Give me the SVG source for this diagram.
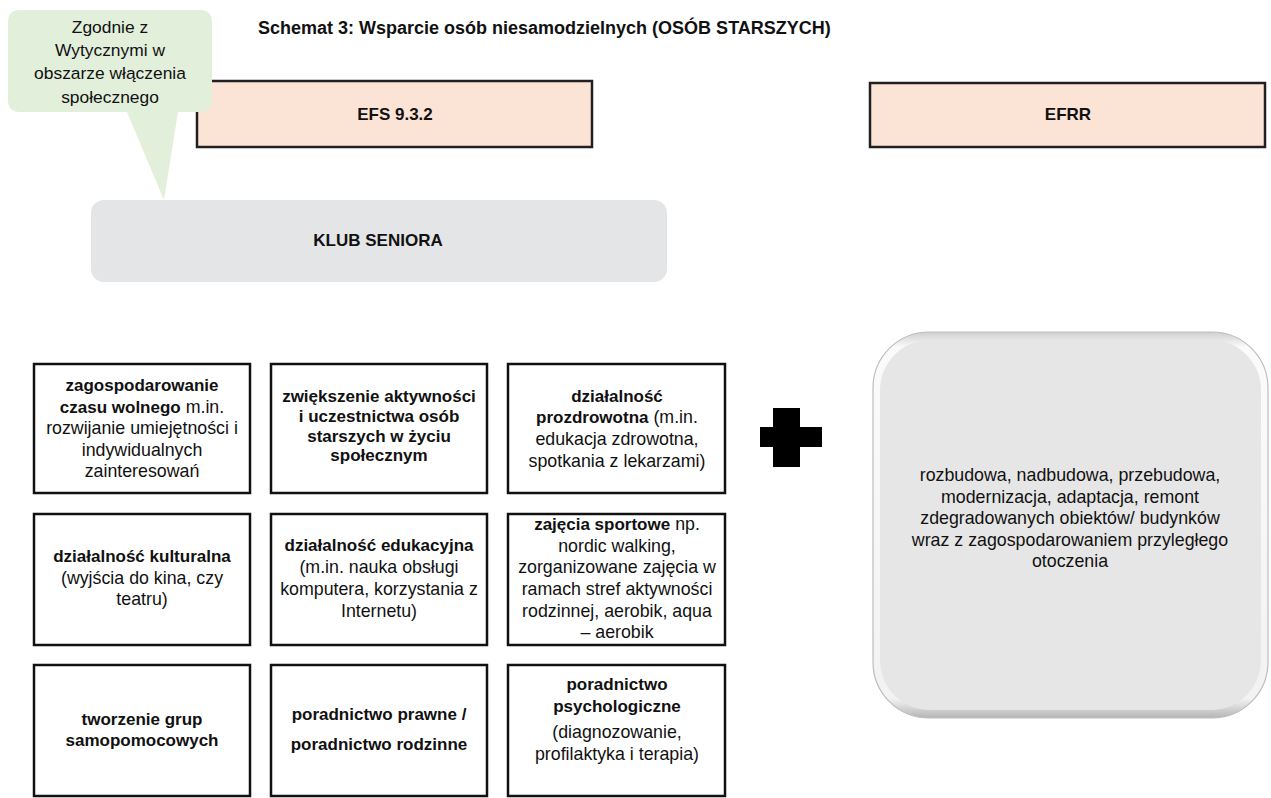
<svg xmlns="http://www.w3.org/2000/svg" width="1271" height="798" viewBox="0 0 1271 798">
<style>
text{font-family:"Liberation Sans",Arial,sans-serif;fill:#111;}
.b{font-weight:bold;font-size:17px;}
.r{font-size:17.8px;}
.co{font-size:17.4px;}
.t{font-weight:bold;font-size:18px;}
.c{text-anchor:middle;}
.box{fill:#fff;stroke:#111;stroke-width:2.5;}
.pink{fill:#fbe4d6;stroke:#231f20;stroke-width:2.5;}
</style>
<defs>
<linearGradient id="bev" x1="0" y1="0" x2="0" y2="1">
<stop offset="0" stop-color="#cfcfcf"/>
<stop offset="0.04" stop-color="#fbfbfb"/>
<stop offset="0.95" stop-color="#f2f2f2"/>
<stop offset="1" stop-color="#b5b5b5"/>
</linearGradient>
</defs>
<rect width="1271" height="798" fill="#fff"/>
<text class="t" x="258" y="34">Schemat 3: Wsparcie osób niesamodzielnych (OSÓB STARSZYCH)</text>

<g id="efs">
<rect class="pink" x="197" y="81" width="395" height="66"/>
<text class="b c" x="395" y="120">EFS 9.3.2</text>
</g>
<g id="efrr">
<rect class="pink" x="870" y="83" width="395" height="64"/>
<text class="b c" x="1068" y="120">EFRR</text>
</g>
<g id="klub">
<rect x="91" y="200" width="576" height="82" rx="13" fill="#e4e5e7"/>
<text class="b c" x="378" y="246">KLUB SENIORA</text>
</g>
<g id="callout">
<path d="M20,10 H200 Q212,10 212,22 V100 Q212,112 200,112 H178 L164,200 L127,112 H20 Q8,112 8,100 V22 Q8,10 20,10 Z" fill="#e2efda"/>
<text class="co c" x="110" y="33">Zgodnie z</text>
<text class="co c" x="110" y="56">Wytycznymi w</text>
<text class="co c" x="110" y="79">obszarze włączenia</text>
<text class="co c" x="110" y="103">społecznego</text>
</g>

<g id="n1">
<rect class="box" x="34" y="364" width="216" height="129"/>
<text class="b c" x="142" y="391">zagospodarowanie</text>
<text class="c" x="142" y="413"><tspan class="b">czasu wolnego</tspan><tspan class="r"> m.in.</tspan></text>
<text class="r c" x="142" y="434">rozwijanie umiejętności i</text>
<text class="r c" x="142" y="456">indywidualnych</text>
<text class="r c" x="142" y="477">zainteresowań</text>
</g>
<g id="n2">
<rect class="box" x="271" y="364" width="216" height="129"/>
<text class="b c" x="379" y="402">zwiększenie aktywności</text>
<text class="b c" x="379" y="422">i uczestnictwa osób</text>
<text class="b c" x="379" y="442">starszych w życiu</text>
<text class="b c" x="379" y="461">społecznym</text>
</g>
<g id="n3">
<rect class="box" x="508" y="364" width="217" height="129"/>
<text class="b c" x="617" y="402">działalność</text>
<text class="c" x="617" y="423"><tspan class="b">prozdrowotna</tspan><tspan class="r">  (m.in.</tspan></text>
<text class="r c" x="617" y="445">edukacja zdrowotna,</text>
<text class="r c" x="617" y="467">spotkania z lekarzami)</text>
</g>
<g id="n4">
<rect class="box" x="34" y="514" width="216" height="131"/>
<text class="b c" x="142" y="562">działalność kulturalna</text>
<text class="r c" x="142" y="584">(wyjścia do kina, czy</text>
<text class="r c" x="142" y="605">teatru)</text>
</g>
<g id="n5">
<rect class="box" x="271" y="514" width="216" height="131"/>
<text class="b c" x="379" y="551">działalność edukacyjna</text>
<text class="r c" x="379" y="573">(m.in. nauka obsługi</text>
<text class="r c" x="379" y="595">komputera, korzystania z</text>
<text class="r c" x="379" y="617">Internetu)</text>
</g>
<g id="n6">
<rect class="box" x="508" y="514" width="217" height="131"/>
<text class="c" x="617" y="530"><tspan class="b">zajęcia sportowe</tspan><tspan class="r"> np.</tspan></text>
<text class="r c" x="617" y="552">nordic walking,</text>
<text class="r c" x="617" y="573">zorganizowane zajęcia w</text>
<text class="r c" x="617" y="595">ramach stref aktywności</text>
<text class="r c" x="617" y="617">rodzinnej, aerobik, aqua</text>
<text class="r c" x="617" y="638">– aerobik</text>
</g>
<g id="n7">
<rect class="box" x="34" y="665" width="216" height="131"/>
<text class="b c" x="142" y="725">tworzenie grup</text>
<text class="b c" x="142" y="746">samopomocowych</text>
</g>
<g id="n8">
<rect class="box" x="271" y="665" width="216" height="131"/>
<text class="b c" x="379" y="720">poradnictwo prawne /</text>
<text class="b c" x="379" y="750">poradnictwo rodzinne</text>
</g>
<g id="n9">
<rect class="box" x="508" y="665" width="217" height="131"/>
<text class="b c" x="617" y="690">poradnictwo</text>
<text class="b c" x="617" y="712">psychologiczne</text>
<text class="r c" x="617" y="738">(diagnozowanie,</text>
<text class="r c" x="617" y="760">profilaktyka i terapia)</text>
</g>

<g id="plus">
<path d="M773,408 H800 V427 H822 V447 H800 V467 H773 V447 H760 V427 H773 Z" fill="#000"/>
</g>

<g id="efrr-box">
<rect x="873" y="332" width="395" height="386" rx="56" fill="url(#bev)" stroke="#bdbdbd" stroke-width="1.2"/>
<rect x="880" y="340" width="381" height="370" rx="50" fill="#e6e6e6"/>
<text class="r c" x="1070" y="481">rozbudowa, nadbudowa, przebudowa,</text>
<text class="r c" x="1070" y="503">modernizacja, adaptacja, remont</text>
<text class="r c" x="1070" y="524">zdegradowanych obiektów/ budynków</text>
<text class="r c" x="1070" y="546">wraz z zagospodarowaniem przyległego</text>
<text class="r c" x="1070" y="567">otoczenia</text>
</g>
<g id="connectors"></g>
</svg>
